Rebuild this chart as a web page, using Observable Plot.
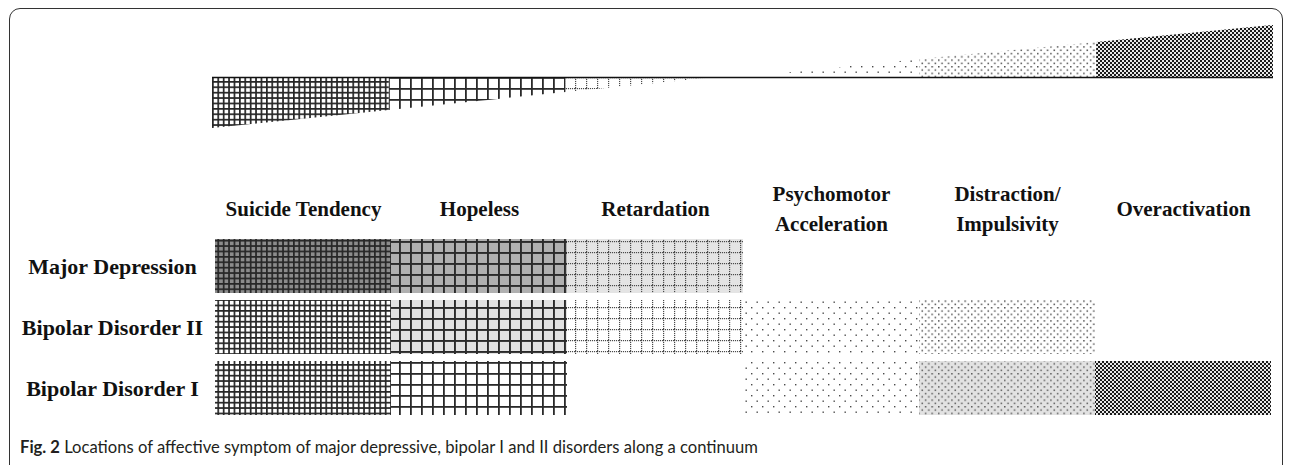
<!DOCTYPE html>
<html><head><meta charset="utf-8">
<script src="https://cdn.jsdelivr.net/npm/d3@7"></script>
<script src="https://cdn.jsdelivr.net/npm/@observablehq/plot@0.6"></script>
<style>
body{margin:0;background:#fff;}
#wrap{position:relative;width:1290px;height:465px;overflow:hidden;background:#fff;}
#frame{position:absolute;left:9px;top:8px;width:1274px;height:480px;border:1.6px solid #333;border-radius:11px;box-sizing:border-box;}
#top{position:absolute;left:0;top:0;}
#grid{position:absolute;left:0;top:175px;}
#caption{position:absolute;left:20px;top:437px;font-family:Lato,"Open Sans",sans-serif;font-size:16.6px;color:#231f20;white-space:nowrap;}
</style></head>
<body>
<div id="wrap">
<div id="frame"></div>
<svg id="defs" width="0" height="0" style="position:absolute;left:0;top:0"></svg>
<div id="top"></div>
<div id="grid"></div>
<div id="caption"><b>Fig. 2</b> Locations of affective symptom of major depressive, bipolar I and II disorders along a continuum</div>
</div>
<script>
// ---- data ----
const symptoms = ["Suicide Tendency", "Hopeless", "Retardation", "Psychomotor\nAcceleration", "Distraction/\nImpulsivity", "Overactivation"];
const disorders = ["Major Depression", "Bipolar Disorder II", "Bipolar Disorder I"];
const majorDepression = ["denseDark", "wideMid", "dotGridLight", null, null, null];
const bipolarII = ["denseWhite", "wideLight", "dotGridWhite", "sparseDots", "mediumDots", null];
const bipolarI = ["denseWhite", "wideWhite", null, "sparseDots", "mediumDotsGray", "checker"];
const rowPatterns = [majorDepression, bipolarII, bipolarI];
// continuum wedge (x in column units, value = depth/height)
const depressiveX = [0, 1, 2, 2.85];
const depressiveDepth = [51, 33, 15, 0];
const depressivePatterns = ["denseWhite", "wideWhite", "dotGridWhite"];
const manicX = [3, 4, 5, 6];
const manicHeight = [0, 18, 35, 52];
const manicPatterns = ["sparseDots", "mediumDots", "checker"];

// ---- patterns ----
const defs = d3.select("#defs").append("defs");
function pat(id, w, h, bg, draw) {
  const p = defs.append("pattern").attr("id", id).attr("patternUnits", "userSpaceOnUse")
    .attr("x", 212).attr("y", 0).attr("width", w).attr("height", h);
  p.append("rect").attr("width", w).attr("height", h).attr("fill", bg);
  draw(p);
}
function grid(p, s, lw, c) {
  p.append("rect").attr("x", 0).attr("y", 0).attr("width", lw).attr("height", s).attr("fill", c);
  p.append("rect").attr("x", 0).attr("y", 0).attr("width", s).attr("height", lw).attr("fill", c);
}
function dottedGrid(p, s, c) {
  for (let i = 0; i < s; i += 2) {
    p.append("rect").attr("x", i).attr("y", 0).attr("width", 1.1).attr("height", 1.2).attr("fill", c);
    p.append("rect").attr("x", 0).attr("y", i).attr("width", 1.2).attr("height", 1.1).attr("fill", c);
  }
}
function dots(p, s, r, c) {
  p.append("rect").attr("x", 0).attr("y", 0).attr("width", r).attr("height", r).attr("fill", c);
  p.append("rect").attr("x", s / 2).attr("y", s / 2).attr("width", r).attr("height", r).attr("fill", c);
}
pat("denseDark", 5.4, 5.4, "#8c8c8c", p => grid(p, 5.4, 1.7, "#262626"));
pat("denseWhite", 5.4, 5.4, "#ffffff", p => grid(p, 5.4, 1.7, "#262626"));
pat("wideMid", 11, 11, "#b0b0b0", p => grid(p, 11, 1.9, "#2a2a2a"));
pat("wideLight", 11, 11, "#e2e2e2", p => grid(p, 11, 1.9, "#2a2a2a"));
pat("wideWhite", 11, 11, "#ffffff", p => grid(p, 11, 1.8, "#2a2a2a"));
pat("dotGridLight", 11, 11, "#e4e4e4", p => dottedGrid(p, 11, "#4a4a4a"));
pat("dotGridWhite", 11, 11, "#ffffff", p => dottedGrid(p, 11, "#4a4a4a"));
pat("sparseDots", 11, 11, "#ffffff", p => dots(p, 11, 1.4, "#4a4a4a"));
pat("mediumDots", 6.6, 6.6, "#ffffff", p => dots(p, 6.6, 1.5, "#505050"));
pat("mediumDotsGray", 6.6, 6.6, "#e2e2e2", p => dots(p, 6.6, 1.5, "#5a5a5a"));
pat("checker", 4, 4, "#e8e8e8", p => {
  p.append("rect").attr("x", 0).attr("y", 0).attr("width", 2).attr("height", 2).attr("fill", "#1a1a1a");
  p.append("rect").attr("x", 2).attr("y", 2).attr("width", 2).attr("height", 2).attr("fill", "#1a1a1a");
});

// ---- wedge table ----
const wedge = [];
for (let i = 0; i < depressivePatterns.length; i++) {
  wedge.push({seg: "d" + i, x: depressiveX[i], v: -depressiveDepth[i], pattern: depressivePatterns[i]});
  wedge.push({seg: "d" + i, x: depressiveX[i + 1], v: -depressiveDepth[i + 1], pattern: depressivePatterns[i]});
}
for (let i = 0; i < manicPatterns.length; i++) {
  wedge.push({seg: "m" + i, x: manicX[i], v: manicHeight[i], pattern: manicPatterns[i]});
  wedge.push({seg: "m" + i, x: manicX[i + 1], v: manicHeight[i + 1], pattern: manicPatterns[i]});
}

const topPlot = Plot.plot({
  width: 1290, height: 140,
  marginLeft: 212, marginRight: 17, marginTop: 0, marginBottom: 0,
  x: {domain: [0, 6], axis: null},
  y: {domain: [-63, 77], axis: null},
  color: {type: "identity"},
  style: {background: "transparent", overflow: "visible"},
  marks: [
    Plot.areaY(wedge, {x: "x", y1: 0, y2: "v", z: "seg", fill: d => `url(#${d.pattern})`, curve: "linear"}),
    Plot.ruleY([0], {x1: 0, x2: 6, stroke: "#111", strokeWidth: 1.6})
  ]
});
document.getElementById("top").appendChild(topPlot);

// ---- cell table ----
const cells = [];
disorders.forEach((d, i) => rowPatterns[i].forEach((p, j) => {
  if (p) cells.push({disorder: d, symptom: symptoms[j], pattern: p});
}));

const serif = "'Liberation Serif', 'Times New Roman', serif";
const gridPlot = Plot.plot({
  width: 1290, height: 245,
  marginLeft: 212, marginRight: 17, marginTop: 64, marginBottom: 5,
  x: {type: "band", domain: symptoms, padding: 0, axis: null},
  y: {type: "band", domain: disorders, paddingInner: 0.12, paddingOuter: 0, axis: null},
  color: {type: "identity"},
  style: {background: "transparent", overflow: "visible"},
  marks: [
    Plot.cell(cells, {x: "symptom", y: "disorder", fill: d => `url(#${d.pattern})`}),
    Plot.text(symptoms, {x: d => d, text: d => d, frameAnchor: "top", dy: -33, lineAnchor: "middle", lineHeight: 1.45,
      fontSize: 21, fontWeight: "bold", fontFamily: serif, fill: "#111"}),
    Plot.text(disorders, {y: d => d, text: d => d, frameAnchor: "left", dx: -100, textAnchor: "middle",
      fontSize: 22, fontWeight: "bold", fontFamily: serif, fill: "#111"})
  ]
});
document.getElementById("grid").appendChild(gridPlot);
</script>
</body></html>
